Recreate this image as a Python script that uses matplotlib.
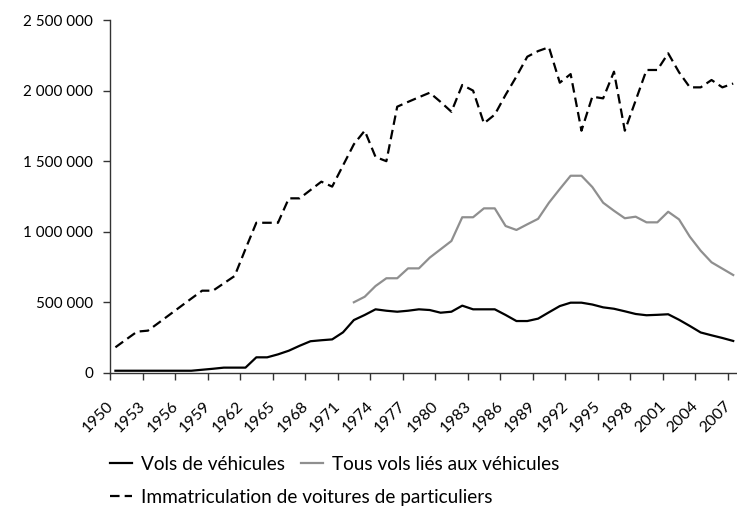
import matplotlib
matplotlib.use("Agg")
import matplotlib.pyplot as plt
import matplotlib.transforms as mtransforms
from matplotlib.lines import Line2D
import numpy as np

years = np.arange(1950, 2008)

vols_vehicules = [
    16000, 16000, 16000, 16000, 16000, 16000, 16000, 16000, 23000, 30000,
    38000, 38000, 38000, 111000, 111000, 132000, 158000, 193000, 225000, 232000,
    238000, 288000, 375000, 411000, 451000, 441000, 434000, 441000, 451000, 446000,
    427000, 434000, 477000, 451000, 451000, 451000, 411000, 368000, 368000, 385000,
    430000, 474000, 498000, 498000, 485000, 465000, 455000, 437000, 418000, 409000,
    412000, 416000, 377000, 333000, 287000, 267000, 248000, 227000,
]

tous_vols_years = np.arange(1972, 2008)
tous_vols = [
    501000, 540000, 616000, 671000, 671000, 741000, 741000, 817000, 876000, 935000,
    1103000, 1103000, 1166000, 1166000, 1041000, 1013000, 1053000, 1092000, 1206000, 1303000,
    1397000, 1397000, 1317000, 1206000, 1149000, 1096000, 1107000, 1067000, 1067000, 1142000,
    1088000, 965000, 866000, 784000, 739000, 694000,
]

immatriculations = [
    182000, 238000, 293000, 300000, 356000, 413000, 470000, 527000, 583000, 583000,
    635000, 687000, 878000, 1064000, 1064000, 1064000, 1237000, 1237000, 1296000, 1355000,
    1320000, 1470000, 1620000, 1716000, 1530000, 1500000, 1886000, 1920000, 1953000, 1985000,
    1920000, 1850000, 2040000, 2000000, 1768000, 1830000, 1970000, 2100000, 2240000, 2280000,
    2307000, 2056000, 2117000, 1716000, 1957000, 1945000, 2134000, 1716000, 1930000, 2146000,
    2146000, 2264000, 2130000, 2023000, 2023000, 2075000, 2023000, 2050000,
]

x_ticks = np.arange(1950, 2008, 3)
y_ticks = [0, 500000, 1000000, 1500000, 2000000, 2500000]

plt.rcParams["font.family"] = ["Lato", "DejaVu Sans"]
plt.rcParams["font.size"] = 11

fig = plt.figure(figsize=(7.37, 5.07), dpi=100)
ax = fig.add_axes([110 / 737, 134 / 507, 627 / 737, 353 / 507])

gray = "#8f8f8f"
dash = (4.3, 2.3)
ax.plot(years + 0.5, vols_vehicules, color="black", lw=1.6)
ax.plot(tous_vols_years + 0.5, tous_vols, color=gray, lw=1.6)
ax.plot(years + 0.5, immatriculations, color="black", lw=1.6, dashes=dash)

ax.set_xlim(1950, 2007.85)
ax.set_ylim(0, 2500000)
ax.set_xticks(x_ticks)
ax.set_xticklabels([str(y) for y in x_ticks], rotation=45, ha="right",
                   va="top", rotation_mode="anchor", fontsize=11.5)
ax.set_yticks(y_ticks)
ax.set_yticklabels([f"{v:,}".replace(",", " ") for v in y_ticks])
ax.tick_params(axis="both", direction="out", length=5, width=1, color="#333333",
               labelcolor="black")
ax.tick_params(axis="x", pad=13.5)
ax.tick_params(axis="y", pad=7)

# nudge the slanted year labels a bit to the left
shift = mtransforms.ScaledTranslation(-4 / 100, 0, fig.dpi_scale_trans)
for lbl in ax.get_xticklabels():
    lbl.set_transform(lbl.get_transform() + shift)

for side in ["top", "right"]:
    ax.spines[side].set_visible(False)
for side in ["left", "bottom"]:
    ax.spines[side].set_color("#333333")
    ax.spines[side].set_linewidth(1)

h1 = Line2D([], [], color="black", lw=1.6)
h2 = Line2D([], [], color=gray, lw=1.6)
h3 = Line2D([], [], color="black", lw=1.6, dashes=dash)

leg_kw = dict(frameon=False, handlelength=1.16, handletextpad=0.47,
              borderpad=0, borderaxespad=0, columnspacing=0.83, fontsize=13.7)
leg1 = fig.legend([h1, h2], ["Vols de véhicules", "Tous vols liés aux véhicules"],
                  ncol=2, loc="center left", bbox_to_anchor=(110 / 737, 1 - 464 / 507), **leg_kw)
leg2 = fig.legend([h3], ["Immatriculation de voitures de particuliers"],
                  loc="center left", bbox_to_anchor=(110 / 737, 1 - 497 / 507), **leg_kw)

fig.savefig("out.png", dpi=100)
